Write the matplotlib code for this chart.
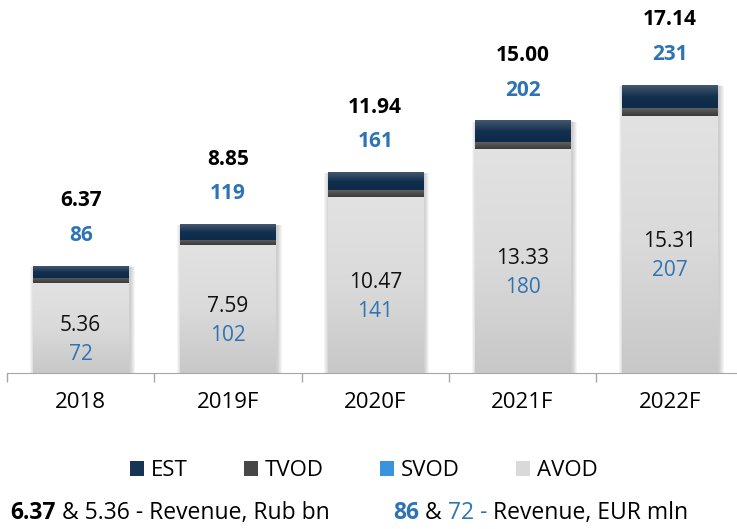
import numpy as np
import matplotlib
matplotlib.use("Agg")
import matplotlib.pyplot as plt
from matplotlib.colors import LinearSegmentedColormap
from matplotlib.patches import Patch

plt.rcParams['font.family'] = ['Open Sans', 'DejaVu Sans']

# Datos del gráfico
years = ['2018', '2019F', '2020F', '2021F', '2022F']
total_rub = [6.37, 8.85, 11.94, 15.00, 17.14]   # Rub bn
total_eur = [86, 119, 161, 202, 231]            # EUR mln
avod_rub = [5.36, 7.59, 10.47, 13.33, 15.31]
avod_eur = [72, 102, 141, 180, 207]
svod = [0, 0, 0, 0, 0]
tvod = [0.30, 0.35, 0.40, 0.41, 0.47]
est = [0.71, 0.91, 1.07, 1.26, 1.36]

blue = '#2E74B5'
grad_avod = ['#e2e2e2', '#dadada', '#c8c8c8']
grad_tvod = ['#606060', '#3a3a3a']
grad_est = ['#44586f', '#13304f', '#0d2a49']

fig = plt.figure(figsize=(7.37, 5.29), dpi=100)
ax = fig.add_axes([7/737, 156/529, 730/737, 373/529])

x = np.arange(len(years))
w = 0.645
avod = np.array(avod_rub)
svod = np.array(svod)
tvod = np.array(tvod)
est = np.array(est)
tops = avod + svod + tvod + est

# sombra suave detrás de cada barra
px = 1 / 147.3
py = 1 / 16.8
for k in range(1, 6):
    ax.bar(x + 1.5 * px, tops + (k * 0.6) * py, w + 2 * k * px, bottom=-(k * 0.8) * py,
           color='black', alpha=0.04, zorder=1, linewidth=0)

b1 = ax.bar(x, avod, w, color=grad_avod[1], zorder=2, linewidth=0)
b2 = ax.bar(x, svod, w, bottom=avod, color='#3a93dd', zorder=2, linewidth=0)
b3 = ax.bar(x, tvod, w, bottom=avod + svod, color=grad_tvod[1], zorder=2, linewidth=0)
b4 = ax.bar(x, est, w, bottom=avod + svod + tvod, color=grad_est[1], zorder=2, linewidth=0)


def gradient(bars, colors):
    cmap = LinearSegmentedColormap.from_list('g', colors)
    g = np.linspace(0, 1, 64).reshape(-1, 1)
    for r in bars:
        if r.get_height() <= 0:
            continue
        x0, y0 = r.get_x(), r.get_y()
        ax.imshow(g, cmap=cmap, aspect='auto', zorder=3, interpolation='bilinear',
                  extent=[x0, x0 + r.get_width(), y0, y0 + r.get_height()])


gradient(b1, grad_avod)
gradient(b3, grad_tvod)
gradient(b4, grad_est)

ax.set_xlim(-0.5, -0.5 + 730 / 147.3)
ax.set_ylim(0, 373 / 16.8)

# etiquetas encima y dentro de las barras
for i in range(len(years)):
    ax.annotate(f'{total_rub[i]:.2f}', (x[i], tops[i]), xytext=(0, 47), textcoords='offset points',
                ha='center', va='center', fontsize=15, fontweight='bold', color='black')
    ax.annotate(f'{total_eur[i]}', (x[i], tops[i]), xytext=(0, 22), textcoords='offset points',
                ha='center', va='center', fontsize=15, fontweight='bold', color=blue)
    mid = avod[i] / 2
    ax.annotate(f'{avod_rub[i]:.2f}', (x[i], mid), xytext=(0, 2), textcoords='offset points',
                ha='center', va='center', fontsize=15, color='#111111', zorder=5)
    ax.annotate(f'{avod_eur[i]}', (x[i], mid), xytext=(0, -19), textcoords='offset points',
                ha='center', va='center', fontsize=15, color=blue, zorder=5)

for s in ['top', 'right', 'left']:
    ax.spines[s].set_visible(False)
ax.spines['bottom'].set_color('#a6a6a6')
ax.set_yticks([])
ax.set_xticks(x)
ax.set_xticklabels(years, fontsize=16)
ax.set_xticks(np.arange(-0.5, 4.0, 1.0), minor=True)
ax.tick_params(axis='x', which='major', length=0, pad=14)
ax.tick_params(axis='x', which='minor', length=6.5, color='#a6a6a6', width=1)

# leyenda
handles = [Patch(facecolor='#163454'), Patch(facecolor='#474747'),
           Patch(facecolor='#3a93dd'), Patch(facecolor='#d9d9d9')]
fig.legend(handles, ['EST', 'TVOD', 'SVOD', 'AVOD'], loc='center', bbox_to_anchor=(364/737, 1 - 471/529),
           ncol=4, frameon=False, fontsize=16, handlelength=0.62, handleheight=0.62,
           handletextpad=0.3, columnspacing=2.55)

# pie de gráfico
footer_left = [('6.37', 'black', 'bold'), (' & 5.36 - Revenue, Rub bn', 'black', 'normal')]
footer_right = [('86', blue, 'bold'), (' & ', 'black', 'normal'), ('72 -', blue, 'normal'),
                (' Revenue, EUR mln', 'black', 'normal')]
for x0, parts in [(10, footer_left), (393, footer_right)]:
    txt, col, wt = parts[0]
    prev = fig.text(x0 / 737, 1 - 525 / 529, txt, fontsize=16.5, fontweight=wt, color=col, va='bottom')
    for txt, col, wt in parts[1:]:
        prev = ax.annotate(txt, xy=(1, 0), xycoords=prev, va='bottom', ha='left',
                           fontsize=16.5, color=col, fontweight=wt, annotation_clip=False)

fig.savefig('out.png', dpi=100)
